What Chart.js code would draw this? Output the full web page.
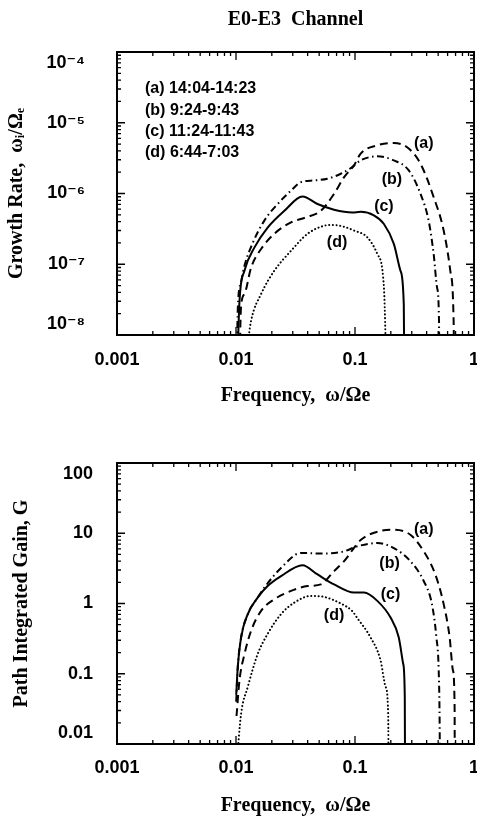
<!DOCTYPE html>
<html>
<head>
<meta charset="utf-8">
<script src="https://cdn.jsdelivr.net/npm/chart.js@4.4.1/dist/chart.umd.min.js"></script>
<style>
  html, body { margin: 0; padding: 0; background: #fff; }
  #topBox { position: absolute; left: 0; top: 0; width: 477px; height: 420px; }
  #bottomBox { position: absolute; left: 0; top: 420px; width: 477px; height: 399px; }
</style>
</head>
<body>
<div id="topBox"><canvas id="growthChart"></canvas></div>
<div id="bottomBox"><canvas id="gainChart"></canvas></div>
<script>
// Axis ticks
const freqTicks = [0.001, 0.01, 0.1, 1];
const freqTickLabels = ["0.001", "0.01", "0.1", "1"];
const growthTicks = [1e-8, 1e-7, 1e-6, 1e-5, 1e-4];
const growthTickLabels = ["10⁻⁸", "10⁻⁷", "10⁻⁶", "10⁻⁵", "10⁻⁴"];
const gainTicks = [0.01, 0.1, 1, 10, 100];
const gainTickLabels = ["0.01", "0.1", "1", "10", "100"];

const periods = ["(a) 14:04-14:23", "(b) 9:24-9:43", "(c) 11:24-11:43", "(d) 6:44-7:03"];
const curveNames = ["(a)", "(b)", "(c)", "(d)"];

// Growth rate (top panel)
const growthFreqA = [0.0106, 0.011, 0.01178, 0.0134, 0.01625, 0.021, 0.029, 0.0387, 0.0516, 0.0667, 0.081, 0.098, 0.1116, 0.154, 0.212, 0.274, 0.355, 0.458, 0.556, 0.632, 0.674, 0.685];
const growthA = [1e-9, 2.4e-8, 3.8e-8, 9.0e-8, 1.64e-7, 2.7e-7, 3.9e-7, 4.6e-7, 5.7e-7, 9.9e-7, 1.7e-6, 2.5e-6, 3.66e-6, 4.8e-6, 5.17e-6, 4.5e-6, 2.64e-6, 8.9e-7, 3.0e-7, 8.1e-8, 1.6e-8, 1e-9];
const growthFreqB = [0.01004, 0.01035, 0.011, 0.01178, 0.01383, 0.0173, 0.0224, 0.029, 0.0352, 0.0454, 0.0586, 0.0759, 0.0948, 0.1116, 0.154, 0.212, 0.283, 0.355, 0.416, 0.458, 0.489, 0.508, 0.512];
const growthB = [1e-9, 2.3e-8, 5.5e-8, 9.5e-8, 2.0e-7, 4.14e-7, 7.1e-7, 1.1e-6, 1.45e-6, 1.53e-6, 1.62e-6, 1.9e-6, 2.36e-6, 2.94e-6, 3.35e-6, 2.94e-6, 2.12e-6, 9.9e-7, 4.1e-7, 1.4e-7, 4.7e-8, 1.6e-8, 1e-9];
const growthFreqC = [0.01004, 0.0107, 0.01178, 0.0143, 0.01845, 0.0255, 0.0362, 0.0484, 0.0667, 0.0948, 0.1116, 0.144, 0.175, 0.212, 0.241, 0.257, 0.261];
const growthC = [1e-9, 3.0e-8, 8.1e-8, 1.73e-7, 3.3e-7, 5.7e-7, 9.06e-7, 7.1e-7, 5.9e-7, 5.4e-7, 5.5e-7, 4.9e-7, 3.7e-7, 1.94e-7, 8.1e-8, 2.7e-8, 1e-9];
const growthFreqD = [0.0123, 0.0134, 0.01625, 0.021, 0.029, 0.040, 0.055, 0.0646, 0.080, 0.098, 0.127, 0.154, 0.175, 0.186];
const growthD = [6e-9, 1.6e-8, 3.8e-8, 8.1e-8, 1.55e-7, 2.7e-7, 3.5e-7, 3.6e-7, 3.4e-7, 3.0e-7, 2.4e-7, 1.4e-7, 4.7e-8, 1e-9];

// Path integrated gain (bottom panel)
const gainFreqA = [0.0101, 0.0107, 0.01178, 0.0134, 0.01625, 0.021, 0.029, 0.040, 0.0516, 0.0667, 0.081, 0.1116, 0.164, 0.212, 0.292, 0.378, 0.473, 0.556, 0.624, 0.665, 0.687, 0.69];
const gainA = [0.025, 0.081, 0.19, 0.41, 0.785, 1.15, 1.51, 1.77, 1.87, 2.89, 4.0, 8.0, 10.8, 11.2, 9.5, 5.53, 2.59, 0.98, 0.33, 0.112, 0.034, 0.001];
const gainFreqB = [0.01004, 0.01035, 0.01104, 0.01256, 0.0152, 0.0173, 0.0239, 0.0352, 0.055, 0.081, 0.1045, 0.154, 0.212, 0.292, 0.378, 0.443, 0.483, 0.505, 0.514, 0.52];
const gainB = [0.04, 0.124, 0.33, 0.706, 1.21, 1.68, 3.21, 5.24, 5.13, 5.53, 6.51, 7.25, 6.16, 4.0, 2.09, 0.98, 0.33, 0.112, 0.022, 0.001];
const gainFreqC = [0.01004, 0.01035, 0.01104, 0.01256, 0.0152, 0.01845, 0.0239, 0.0362, 0.0484, 0.0667, 0.098, 0.119, 0.154, 0.199, 0.233, 0.254, 0.262, 0.264];
const gainC = [0.05, 0.124, 0.33, 0.706, 1.21, 1.77, 2.45, 3.51, 2.59, 1.87, 1.43, 1.43, 1.09, 0.63, 0.33, 0.139, 0.047, 0.001];
const gainFreqD = [0.0101, 0.01104, 0.01256, 0.0152, 0.01845, 0.0239, 0.0309, 0.0426, 0.055, 0.0759, 0.0948, 0.1045, 0.135, 0.164, 0.181, 0.190, 0.192];
const gainD = [0.005, 0.027, 0.065, 0.19, 0.37, 0.706, 1.03, 1.28, 1.24, 1.0, 0.78, 0.62, 0.33, 0.155, 0.065, 0.027, 0.001];

// Where the (a)..(d) tags sit, in data units
const growthNoteFreq = [0.378, 0.204, 0.175, 0.0707];
const growthNoteVal = [5.1e-6, 1.55e-6, 6.6e-7, 2.0e-7];
const gainNoteFreq = [0.378, 0.195, 0.199, 0.0667];
const gainNoteVal = [11.2, 3.7, 1.35, 0.668];

const sansFont = '"Liberation Sans", "DejaVu Sans", Arial, sans-serif';
const serifFont = '"Liberation Serif", "DejaVu Serif", "Times New Roman", serif';

// line styles for (a) dashed, (b) dash-dot, (c) solid, (d) dotted
function series(xs, ys, dash, width, cap) {
  return {
    data: xs.map((x, i) => ({ x: x, y: ys[i] })),
    borderColor: "#000",
    borderWidth: width,
    borderDash: dash,
    borderCapStyle: cap || "butt",
    pointRadius: 0,
    fill: false,
    cubicInterpolationMode: "monotone",
    clip: 0
  };
}

function logMarks(min, max) {
  const out = [];
  const e0 = Math.round(Math.log10(min));
  const e1 = Math.round(Math.log10(max));
  for (let e = e0; e < e1; e++) {
    for (let k = 1; k < 10; k++) out.push([k * Math.pow(10, e), k === 1]);
  }
  out.push([max, true]);
  return out;
}

// box round the plot with inward ticks on all four sides
const frameTicks = {
  id: "frameTicks",
  afterDatasetsDraw(chart) {
    const { ctx, chartArea: a, scales: { x, y } } = chart;
    ctx.save();
    ctx.strokeStyle = "#000";
    ctx.lineWidth = 1.3;
    ctx.beginPath();
    logMarks(x.min, x.max).forEach(([v, major]) => {
      const px = x.getPixelForValue(v);
      const len = major ? 8 : 4;
      ctx.moveTo(px, a.bottom); ctx.lineTo(px, a.bottom - len);
      ctx.moveTo(px, a.top); ctx.lineTo(px, a.top + len);
    });
    logMarks(y.min, y.max).forEach(([v, major]) => {
      const py = y.getPixelForValue(v);
      const len = major ? 8 : 4;
      ctx.moveTo(a.left, py); ctx.lineTo(a.left + len, py);
      ctx.moveTo(a.right, py); ctx.lineTo(a.right - len, py);
    });
    ctx.stroke();
    ctx.lineWidth = 2;
    ctx.strokeRect(a.left, a.top, a.right - a.left, a.bottom - a.top);
    ctx.restore();
  }
};

function curveTags(xs, ys, legendLines) {
  return {
    id: "curveTags",
    afterDatasetsDraw(chart) {
      const { ctx, chartArea: a, scales: { x, y } } = chart;
      ctx.save();
      ctx.fillStyle = "#000";
      ctx.font = "bold 16px " + sansFont;
      ctx.textAlign = "center";
      ctx.textBaseline = "middle";
      xs.forEach((v, i) => {
        ctx.fillText(curveNames[i], x.getPixelForValue(v), y.getPixelForValue(ys[i]));
      });
      if (legendLines) {
        ctx.textAlign = "left";
        legendLines.forEach((t, i) => ctx.fillText(t, a.left + 28, a.top + 37 + i * 21.3));
      }
      ctx.restore();
    }
  };
}

function makeChart(canvasId, opt) {
  const tickFont = { family: sansFont, size: 18, weight: "bold" };
  const titleFont = { family: serifFont, size: 20, weight: "bold" };
  const last = opt.yTicks.length - 1;
  return new Chart(document.getElementById(canvasId), {
    type: "line",
    data: {
      datasets: [
        series(opt.data[0], opt.data[1], [8, 5], 2),
        series(opt.data[2], opt.data[3], [7, 3.5, 1.5, 3.5], 2),
        series(opt.data[4], opt.data[5], [], 2),
        series(opt.data[6], opt.data[7], [0.1, 3.6], 2, "round")
      ]
    },
    options: {
      responsive: true,
      maintainAspectRatio: false,
      animation: false,
      devicePixelRatio: 1,
      layout: { padding: { top: opt.padTop, right: 3, bottom: 0, left: 0 } },
      plugins: {
        legend: { display: false },
        tooltip: { enabled: false },
        title: {
          display: !!opt.title,
          text: opt.title || "",
          color: "#000",
          font: titleFont,
          fullSize: false,
          padding: { top: 8, bottom: 20 }
        }
      },
      scales: {
        x: {
          type: "logarithmic",
          min: 0.001,
          max: 1,
          grid: { display: false, drawTicks: false },
          border: { display: false },
          afterBuildTicks: s => { s.ticks = freqTicks.map(v => ({ value: v })); },
          afterFit: s => { s.height = opt.xHeight; s.paddingLeft = 0; s.paddingRight = 0; },
          ticks: {
            autoSkip: false,
            maxRotation: 0,
            padding: opt.xTickPad,
            color: "#000",
            font: tickFont,
            callback: (v, i) => freqTickLabels[i]
          },
          title: {
            display: true,
            text: "Frequency,  ω/Ωe",
            color: "#000",
            font: titleFont,
            padding: { top: 0, bottom: opt.xTitlePad }
          }
        },
        y: {
          type: "logarithmic",
          min: opt.yTicks[0],
          max: opt.yTicks[last],
          grid: { display: false, drawTicks: false },
          border: { display: false },
          afterBuildTicks: s => { s.ticks = opt.yTicks.map(v => ({ value: v })); },
          afterFit: s => { s.width = 117; s.paddingTop = 0; s.paddingBottom = 0; },
          ticks: {
            autoSkip: false,
            padding: opt.yTickPad,
            color: "#000",
            font: tickFont,
            callback: (v, i) => {
              // end labels sit a little inside the frame
              if (i === 0) return [opt.yLabels[i], ""];
              if (i === last) return ["", opt.yLabels[i]];
              return opt.yLabels[i];
            }
          },
          title: {
            display: true,
            text: opt.yTitle,
            color: "#000",
            font: titleFont,
            padding: { top: opt.yTitlePad, bottom: 0 }
          }
        }
      }
    },
    plugins: [frameTicks, curveTags(opt.noteX, opt.noteY, opt.legend)]
  });
}

makeChart("growthChart", {
  title: "E0-E3  Channel",
  padTop: 0,
  data: [growthFreqA, growthA, growthFreqB, growthB, growthFreqC, growthC, growthFreqD, growthD],
  yTicks: growthTicks,
  yLabels: growthTickLabels,
  yTitle: "Growth Rate,  ωᵢ/Ωₑ",
  yTitlePad: 5,
  yTickPad: 32,
  xHeight: 85,
  xTickPad: 14,
  xTitlePad: 12,
  noteX: growthNoteFreq,
  noteY: growthNoteVal,
  legend: periods
});

makeChart("gainChart", {
  title: null,
  padTop: 43,
  data: [gainFreqA, gainA, gainFreqB, gainB, gainFreqC, gainC, gainFreqD, gainD],
  yTicks: gainTicks,
  yLabels: gainTickLabels,
  yTitle: "Path Integrated Gain, G",
  yTitlePad: 10,
  yTickPad: 24,
  xHeight: 75,
  xTickPad: 13,
  xTitlePad: 1,
  noteX: gainNoteFreq,
  noteY: gainNoteVal,
  legend: null
});
</script>
</body>
</html>
